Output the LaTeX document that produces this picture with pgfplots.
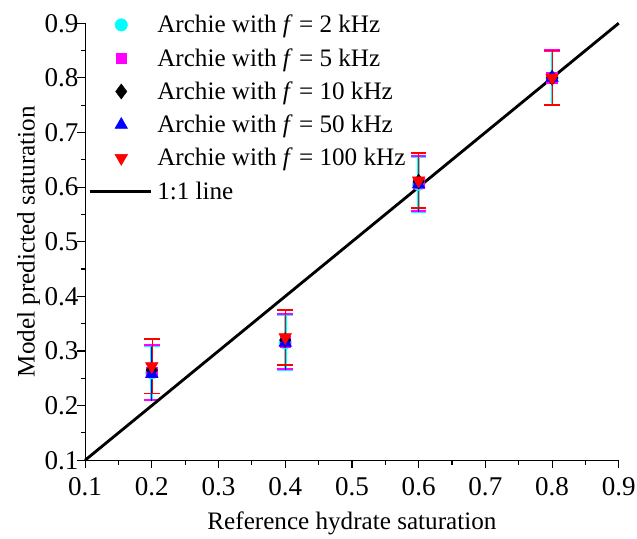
\documentclass[border=0pt]{standalone}
\usepackage{pgfplots}
\pgfplotsset{compat=1.18}
\usepackage{fontspec}
\setmainfont{Liberation Serif}
\definecolor{pcyan}{RGB}{0,255,255}
\definecolor{pmagenta}{RGB}{255,0,255}
\definecolor{pblue}{RGB}{0,0,255}
\definecolor{pred}{RGB}{255,0,0}

\begin{document}
\begin{tikzpicture}
\begin{axis}[
    scale only axis,
    width=414pt, height=339pt,
    xmin=0.1, xmax=0.9, ymin=0.1, ymax=0.9,
    xtick={0.1,0.2,...,0.91}, ytick={0.1,0.2,...,0.91},
    minor tick num=1,
    axis x line*=bottom, axis y line*=left,
    axis line style={-, line width=0.9pt},
    tick align=outside,
    major tick length=6pt, minor tick length=3.5pt,
    tick style={line width=0.9pt, black},
    xticklabel style={/pgf/number format/fixed, /pgf/number format/precision=1, /pgf/number format/fixed zerofill, inner xsep=1pt, yshift=-4pt},
    yticklabel style={/pgf/number format/fixed, /pgf/number format/precision=1, /pgf/number format/fixed zerofill, inner xsep=1pt, xshift=2pt},
    /pgf/number format/assume math mode=true,
    ticklabel style={font=\fontsize{21}{23}\selectfont},
    xlabel={Reference hydrate saturation},
    ylabel={Model predicted saturation},
    label style={font=\fontsize{19.5}{21}\selectfont},
    xlabel style={yshift=-5pt},
    ylabel style={yshift=-1pt},
    legend style={draw=none, fill=none, at={(-0.001,1.031)}, anchor=north west,
        font=\fontsize{19.5}{21}\selectfont, row sep=6.6pt,
        /tikz/every odd column/.append style={column sep=1.5pt}},
    legend cell align=left,
    clip=false,
    error bars/y dir=both, error bars/y explicit,
]
\addplot[only marks, mark=*, mark size=4.8pt, color=pcyan,
    error bars/error bar style={pcyan, line width=2.2pt},
    error bars/error mark options={rotate=90, mark size=6pt, line width=1.6pt, pcyan}]
    coordinates {(0.2,0.26) +- (0,0.05) (0.4,0.315) +- (0,0.05) (0.6,0.605) +- (0,0.05) (0.8,0.80) +- (0,0.05)};
\addlegendentry{Archie with \textit{f} = 2 kHz}
\addplot[only marks, mark=square*, mark size=4.2pt, color=pmagenta,
    error bars/error bar style={pmagenta, line width=0.5pt},
    error bars/error mark options={rotate=90, mark size=6pt, line width=1.6pt, pmagenta}]
    coordinates {(0.2,0.261) +- (0,0.05) (0.4,0.317) +- (0,0.05) (0.6,0.607) +- (0,0.05) (0.8,0.80) +- (0,0.05)};
\addlegendentry{Archie with \textit{f} = 5 kHz}
\addplot[only marks, mark=diamond*, mark size=5.8pt, color=black]
    coordinates {(0.2,0.265) (0.4,0.32) (0.6,0.61) (0.8,0.80)};
\addlegendentry{Archie with \textit{f} = 10 kHz}
\addplot[only marks, mark=triangle*, mark size=5.6pt, color=pblue,
    error bars/error bar style={pblue, line width=0.8pt},
    error bars/error mark=none]
    coordinates {(0.2,0.258) +- (0,0.05) (0.4,0.315) +- (0,0.05) (0.6,0.605) +- (0,0.05) (0.8,0.80) +- (0,0.05)};
\addlegendentry{Archie with \textit{f} = 50 kHz}
\addplot[only marks, mark=triangle*, mark options={rotate=180}, mark size=5.6pt, color=pred,
    error bars/error bar style={pred, line width=0.4pt},
    error bars/error mark options={rotate=90, mark size=6pt, line width=1.4pt, pred}]
    coordinates {(0.2,0.272) +- (0,0.05) (0.4,0.325) +- (0,0.05) (0.6,0.612) +- (0,0.05) (0.8,0.80) +- (0,0.05)};
\addlegendentry{Archie with \textit{f} = 100 kHz}
\addplot[black, line width=2.2pt, no marks, forget plot] coordinates {(0.1,0.1) (0.9,0.9)};
\addlegendimage{legend image code/.code={\draw[black, line width=2.2pt] (-0.55cm,0cm) -- (1.12cm,0cm);}}
\addlegendentry{1:1 line}
\end{axis}
\path (current axis.north) ++(0,18pt);
\path (current axis.west) ++(-66pt,0);
\end{tikzpicture}
\end{document}
